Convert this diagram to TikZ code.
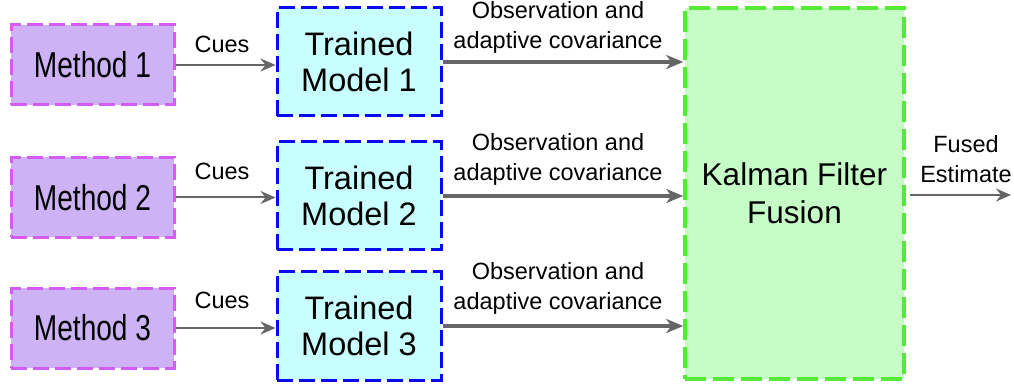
\documentclass[tikz,border=0pt]{standalone}
\usepackage{fontspec}
\setmainfont{Liberation Sans}
\newfontfamily\narrowsans[FakeStretch=0.78]{Liberation Sans}
\usetikzlibrary{arrows.meta}

\definecolor{methodfill}{HTML}{CEB2F6}
\definecolor{methoddraw}{HTML}{D45CF2}
\definecolor{modelfill}{HTML}{C8FEFE}
\definecolor{modeldraw}{HTML}{0A0AF0}
\definecolor{fusionfill}{HTML}{C6FCC6}
\definecolor{fusiondraw}{HTML}{55EA35}
\definecolor{flow}{HTML}{666666}

\tikzset{
  boxdash/.style={line width=3pt, dash pattern=on 16pt off 6pt},
  methodbox/.style={boxdash, draw=methoddraw, fill=methodfill, inner sep=0pt,
    minimum width=163pt, minimum height=80pt,
    font=\narrowsans\fontsize{36}{40}\selectfont},
  modelbox/.style={boxdash, draw=modeldraw, fill=modelfill, inner sep=0pt,
    minimum width=164pt, minimum height=108pt, align=center,
    font=\fontsize{32.5}{36}\selectfont},
  fusionbox/.style={line width=3.5pt, dash pattern=on 21pt off 7pt,
    draw=fusiondraw, fill=fusionfill, inner sep=0pt,
    minimum width=219pt, minimum height=371pt, align=center,
    font=\fontsize{31.5}{38}\selectfont},
  cuearrow/.style={draw=flow, line width=2pt,
    -{Stealth[length=15pt,width=13pt,inset=5pt,fill=flow]}},
  obsarrow/.style={draw=flow, line width=3.5pt,
    -{Stealth[length=17pt,width=14pt,inset=5pt,fill=flow]}},
  outarrow/.style={draw=flow, line width=2pt,
    -{Stealth[length=15pt,width=13pt,inset=5pt,fill=flow]}},
  smalllabel/.style={align=center, inner sep=0pt, font=\fontsize{23.5}{30}\selectfont},
}

\begin{document}
\begin{tikzpicture}[x=1pt, y=-1pt]
  \useasboundingbox (0,0) rectangle (1014,387);

  % source methods
  \node[methodbox] (m1) at (92.5,65)   {Method 1};
  \node[methodbox] (m2) at (92.5,197.5) {Method 2};
  \node[methodbox] (m3) at (92.5,328)  {Method 3};

  % trained models
  \node[modelbox] (t1) at (359,62)  {Trained\\Model 1};
  \node[modelbox] (t2) at (359,196) {Trained\\Model 2};
  \node[modelbox] (t3) at (359,326) {Trained\\Model 3};

  % fusion stage
  \node[fusionbox] (k) at (794.5,193.5) {Kalman Filter\\Fusion};

  % cues into the models
  \draw[cuearrow] (m1.east) -- (m1.east -| t1.west);
  \draw[cuearrow] (m2.east) -- (m2.east -| t2.west);
  \draw[cuearrow] (m3.east) -- (m3.east -| t3.west);
  \node[smalllabel] (c1) at (222,44)  {Cues};
  \node[smalllabel] (c2) at (222,171) {Cues};
  \node[smalllabel] (c3) at (222,300) {Cues};

  % observations into the filter
  \draw[obsarrow] (t1.east) -- (t1.east -| k.west);
  \draw[obsarrow] (t2.east) -- (t2.east -| k.west);
  \draw[obsarrow] (t3.east) -- (t3.east -| k.west);
  \node[smalllabel] (o1) at (558,27)  {Observation and\\adaptive covariance};
  \node[smalllabel] (o2) at (558,159) {Observation and\\adaptive covariance};
  \node[smalllabel] (o3) at (558,288) {Observation and\\adaptive covariance};

  % fused output
  \coordinate (out) at (1011,195);
  \draw[outarrow] ([xshift=4pt]k.east |- out) -- (out);
  \node[smalllabel] (fe) at (966,159) {Fused\\Estimate};
\end{tikzpicture}
\end{document}
